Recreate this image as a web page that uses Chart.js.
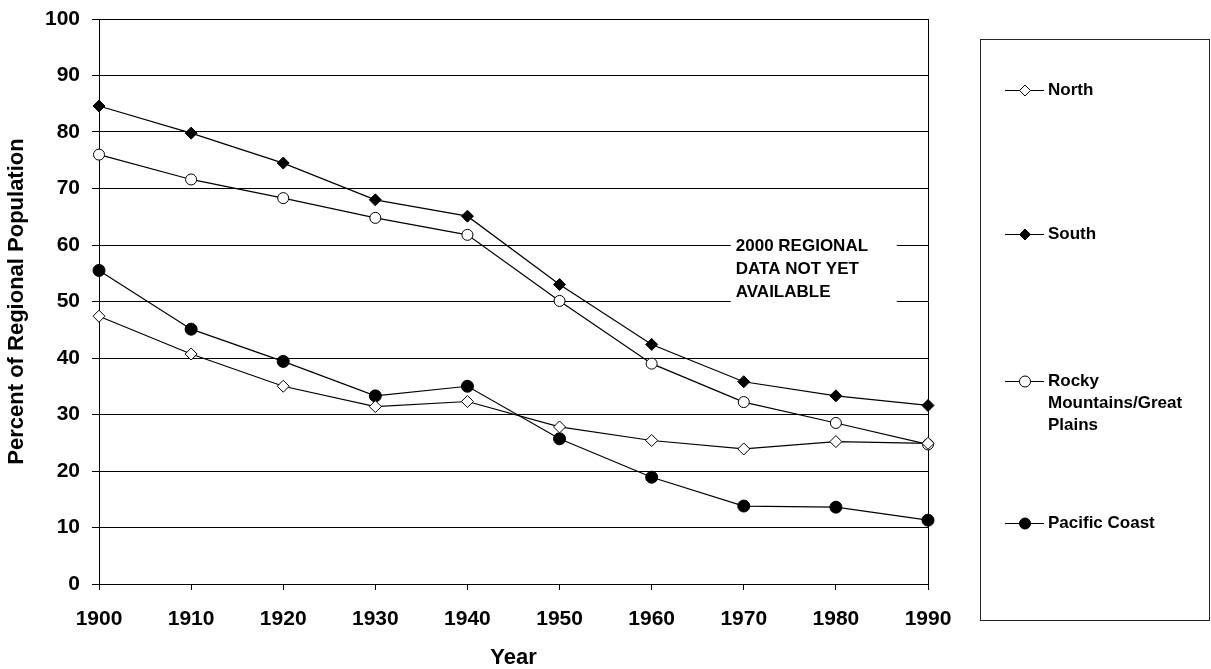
<!DOCTYPE html>
<html>
<head>
<meta charset="utf-8">
<script src="https://cdn.jsdelivr.net/npm/chart.js@4.4.1/dist/chart.umd.min.js"></script>
<style>
  html, body { margin: 0; padding: 0; background: #fff; }
  #wrap { width: 1211px; height: 669px; position: relative; }
</style>
</head>
<body>
<div id="wrap"><canvas id="c" width="1211" height="669"></canvas></div>
<script>
const years = ['1900','1910','1920','1930','1940','1950','1960','1970','1980','1990'];
const north   = [47.4, 40.7, 35.0, 31.4, 32.3, 27.8, 25.4, 23.9, 25.2, 24.9];
const south   = [84.6, 79.8, 74.5, 68.0, 65.1, 53.0, 42.4, 35.8, 33.3, 31.6];
const rocky   = [76.0, 71.6, 68.3, 64.8, 61.8, 50.1, 39.0, 32.2, 28.5, 24.7];
const pacific = [55.5, 45.1, 39.4, 33.3, 35.0, 25.7, 18.9, 13.8, 13.6, 11.3];
const seriesNames = ['North', 'South', 'Rocky Mountains/Great Plains', 'Pacific Coast'];
const legendLines = [['North'], ['South'], ['Rocky', 'Mountains/Great', 'Plains'], ['Pacific Coast']];
const noteLines = ['2000 REGIONAL', 'DATA NOT YET', 'AVAILABLE'];
const yTitle = 'Percent of Regional Population';
const xTitle = 'Year';

const FONT = '"Liberation Sans", Arial, Helvetica, sans-serif';

function ds(label, data, style, filled, radius) {
  return {
    label, data,
    borderColor: '#000', borderWidth: 1.2,
    backgroundColor: filled ? '#000' : '#fff',
    pointStyle: style, pointRadius: radius, pointHoverRadius: radius,
    pointBorderColor: '#000', pointBorderWidth: 1,
    pointBackgroundColor: filled ? '#000' : '#fff',
    tension: 0, fill: false
  };
}

function drawMarker(ctx, style, filled, x, y, r) {
  ctx.save();
  ctx.beginPath();
  if (style === 'rectRot') {
    ctx.moveTo(x, y - r); ctx.lineTo(x + r, y); ctx.lineTo(x, y + r); ctx.lineTo(x - r, y); ctx.closePath();
  } else {
    ctx.arc(x, y, r, 0, Math.PI * 2);
  }
  ctx.fillStyle = filled ? '#000' : '#fff';
  ctx.fill();
  ctx.lineWidth = 1; ctx.strokeStyle = '#000';
  ctx.stroke();
  ctx.restore();
}

const decor = {
  id: 'decor',
  beforeDatasetsDraw(chart) {
    const { ctx, chartArea: ca, scales: { x, y } } = chart;
    ctx.save();
    ctx.strokeStyle = '#000'; ctx.lineWidth = 1;
    ctx.beginPath();
    const rx = Math.round(ca.right) + 0.5;
    ctx.moveTo(rx, ca.top); ctx.lineTo(rx, ca.bottom);
    ctx.stroke();
    const nx = x.getPixelForValue(7) - 13;
    const ny = y.getPixelForValue(60);
    ctx.fillStyle = '#fff';
    ctx.fillRect(nx, ny - 10, 166, 70);
    ctx.restore();
  },
  afterDraw(chart) {
    const { ctx, scales: { x, y } } = chart;
    ctx.save();
    const nx = x.getPixelForValue(7) - 8;
    const ny = y.getPixelForValue(60) + 1.5;
    ctx.fillStyle = '#000';
    ctx.font = 'bold 17px ' + FONT;
    ctx.textBaseline = 'middle';
    ctx.textAlign = 'left';
    noteLines.forEach((t, i) => ctx.fillText(t, nx, ny + i * 23));

    const bx = 980.5, by = 39.5, bw = 229, bh = 581;
    ctx.strokeStyle = '#222'; ctx.lineWidth = 1;
    ctx.strokeRect(bx, by, bw, bh);
    const rowsY = [90, 234, 381, 523];
    ctx.font = 'bold 17px ' + FONT;
    chart.data.datasets.forEach((d, i) => {
      const ly = rowsY[i];
      ctx.beginPath();
      ctx.moveTo(1005, ly + 0.5); ctx.lineTo(1044, ly + 0.5);
      ctx.strokeStyle = '#000'; ctx.lineWidth = 1; ctx.stroke();
      drawMarker(ctx, d.pointStyle, d.pointBackgroundColor === '#000', 1025, ly + 0.5, 5.5);
      ctx.fillStyle = '#000';
      legendLines[i].forEach((t, j) => ctx.fillText(t, 1048, ly + j * 22));
    });
    ctx.restore();
  }
};

new Chart(document.getElementById('c'), {
  type: 'line',
  data: {
    labels: years,
    datasets: [
      ds(seriesNames[0], north, 'rectRot', false, 6),
      ds(seriesNames[1], south, 'rectRot', true, 6),
      ds(seriesNames[2], rocky, 'circle', false, 5.5),
      ds(seriesNames[3], pacific, 'circle', true, 6)
    ]
  },
  options: {
    responsive: false,
    animation: false,
    events: [],
    layout: { padding: { left: 0, right: 283, top: 19, bottom: 0 } },
    plugins: { legend: { display: false }, tooltip: { enabled: false } },
    scales: {
      x: {
        offset: false,
        grid: { drawOnChartArea: false, drawTicks: true, tickLength: 6, color: '#000', lineWidth: 1 },
        border: { display: true, color: '#000', width: 1 },
        ticks: { color: '#000', font: { family: FONT, size: 21, weight: 'bold' }, padding: 17, maxRotation: 0, autoSkip: false },
        title: { display: true, text: xTitle, color: '#000', font: { family: FONT, size: 22, weight: 'bold', lineHeight: 1 }, padding: { top: 0, bottom: 0 } },
        afterFit(s) { s.height = 85; }
      },
      y: {
        min: 0, max: 100,
        ticks: { stepSize: 10, color: '#000', font: { family: FONT, size: 21, weight: 'bold' }, padding: 12 },
        grid: { drawOnChartArea: true, drawTicks: true, tickLength: 7, color: '#000', lineWidth: 1 },
        border: { display: true, color: '#000', width: 1 },
        title: { display: true, text: yTitle, color: '#000', font: { family: FONT, size: 22, weight: 'bold', lineHeight: 1 }, padding: { top: 6, bottom: 0 } },
        afterFit(s) { s.width = 99; s.paddingTop = 0; s.paddingBottom = 0; }
      }
    }
  },
  plugins: [decor]
});
</script>
</body>
</html>
